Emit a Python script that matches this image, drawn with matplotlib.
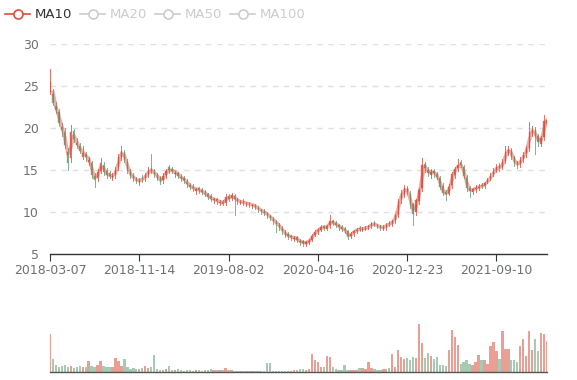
import matplotlib
matplotlib.use("Agg")
import matplotlib.pyplot as plt
from matplotlib.lines import Line2D
from matplotlib.patches import Rectangle
import numpy as np
import pandas as pd

tick_labels = ["2018-03-07", "2018-11-14", "2019-08-02", "2020-04-16", "2020-12-23", "2021-09-10"]
tick_index = [0, 30, 60, 90, 120, 150]
legend_names = ["MA10", "MA20", "MA50", "MA100"]

close = [25.5, 23.0, 22.1, 20.6, 19.8, 18.0, 15.8, 19.5, 18.7, 18.0, 17.3, 17.0,
         16.5, 16.2, 14.4, 13.8, 14.8, 15.8, 14.8, 14.4, 14.3, 14.3, 15.0, 16.6,
         17.3, 16.2, 14.9, 14.3, 14.0, 13.7, 13.8, 13.9, 14.4, 15.0, 14.9, 14.5,
         14.1, 13.6, 14.3, 14.9, 15.0, 14.9, 14.7, 14.3, 14.0, 13.8, 13.3, 13.0,
         12.8, 12.7, 12.6, 12.4, 12.2, 11.8, 11.6, 11.5, 11.3, 11.2, 11.0, 11.8,
         11.6, 12.0, 11.5, 11.3, 11.2, 11.1, 11.0, 10.9, 10.8, 10.6, 10.3, 10.1,
         9.9, 9.6, 9.3, 8.9, 8.6, 8.2, 7.7, 7.3, 7.1, 7.0, 6.9, 6.7,
         6.4, 6.3, 6.4, 6.6, 7.2, 7.6, 7.9, 8.2, 8.1, 8.3, 8.9, 8.7,
         8.5, 8.2, 8.0, 7.8, 7.0, 7.4, 7.7, 7.9, 8.0, 8.0, 8.1, 8.3,
         8.6, 8.5, 8.3, 8.1, 8.2, 8.5, 8.6, 8.9, 9.6, 11.3, 12.3, 12.8,
         12.4, 10.8, 9.8, 11.4, 12.6, 15.6, 15.2, 14.6, 14.8, 14.6, 14.2, 13.0,
         12.3, 12.1, 13.0, 14.5, 15.1, 15.6, 15.6, 14.3, 12.8, 12.5, 12.7, 12.9,
         13.0, 13.1, 13.4, 13.8, 14.3, 14.9, 15.4, 15.2, 16.0, 17.1, 17.5, 16.6,
         15.8, 15.6, 16.2, 16.8, 17.5, 19.5, 19.8, 19.0, 18.3, 18.8, 20.8, 21.0]

open_ = [24.3, 24.0, 22.6, 21.9, 20.1, 19.5, 17.2, 16.4, 19.6, 18.2, 17.8, 16.6,
         16.9, 15.9, 15.8, 14.3, 14.0, 14.9, 15.6, 14.9, 14.6, 14.0, 14.4, 15.3,
         16.5, 17.1, 16.0, 14.8, 14.4, 13.9, 13.5, 14.1, 14.0, 14.5, 15.2, 14.8,
         14.4, 14.0, 13.8, 14.4, 15.3, 15.1, 14.5, 14.6, 14.2, 14.1, 13.6, 13.2,
         13.0, 12.5, 12.8, 12.6, 12.3, 12.1, 11.9, 11.4, 11.5, 11.1, 11.2, 11.1,
         11.9, 11.7, 11.9, 11.5, 11.1, 11.3, 10.9, 11.0, 10.7, 10.8, 10.5, 10.2,
         10.1, 9.8, 9.5, 9.2, 8.8, 8.5, 8.1, 7.6, 7.4, 7.1, 6.8, 7.0,
         6.6, 6.5, 6.2, 6.4, 6.7, 7.3, 7.7, 7.9, 8.3, 8.0, 8.4, 8.9,
         8.7, 8.4, 8.2, 8.0, 7.7, 7.1, 7.5, 7.7, 8.1, 7.9, 8.0, 8.2,
         8.3, 8.7, 8.4, 8.3, 8.0, 8.2, 8.7, 8.6, 9.0, 9.7, 11.5, 12.1,
         12.9, 12.2, 10.9, 10.0, 11.3, 12.8, 15.7, 15.0, 14.4, 14.9, 14.5, 14.1,
         13.1, 12.4, 12.2, 13.2, 14.4, 15.2, 15.9, 15.4, 14.1, 12.9, 12.4, 12.7,
         12.8, 13.2, 13.1, 13.6, 14.0, 14.5, 15.0, 15.6, 15.3, 16.1, 17.0, 17.4,
         16.5, 15.9, 15.7, 16.3, 16.9, 17.6, 19.4, 19.9, 19.1, 18.1, 18.9, 20.5]

high = [27.0, 24.6, 23.1, 22.3, 20.6, 20.0, 17.6, 20.3, 19.9, 18.8, 18.2, 17.8,
        17.2, 16.6, 16.1, 14.7, 15.1, 16.4, 15.9, 15.2, 14.9, 14.6, 15.3, 16.9,
        17.8, 17.4, 16.3, 15.1, 14.6, 14.2, 14.1, 14.4, 14.7, 15.3, 16.9, 15.1,
        14.7, 14.3, 14.6, 15.1, 15.6, 15.4, 14.9, 14.8, 14.5, 14.3, 13.9, 13.5,
        13.3, 12.9, 13.0, 12.8, 12.6, 12.3, 12.1, 11.7, 11.7, 11.4, 11.4, 12.2,
        12.1, 12.3, 12.1, 11.7, 11.4, 11.5, 11.2, 11.2, 11.0, 11.0, 10.7, 10.4,
        10.3, 10.0, 9.7, 9.4, 9.0, 8.7, 8.3, 7.9, 7.6, 7.3, 7.1, 7.2,
        6.8, 6.7, 6.6, 6.8, 7.4, 7.8, 8.1, 8.4, 8.5, 8.5, 9.6, 9.1,
        8.9, 8.6, 8.4, 8.2, 7.9, 7.6, 7.9, 8.1, 8.3, 8.2, 8.3, 8.5,
        8.8, 8.9, 8.6, 8.5, 8.4, 8.7, 8.9, 9.1, 9.8, 11.6, 12.6, 13.2,
        13.1, 12.5, 11.1, 11.6, 12.9, 16.4, 16.0, 15.3, 15.1, 15.1, 14.8, 14.3,
        13.4, 12.6, 13.3, 14.8, 15.4, 16.3, 16.2, 15.6, 14.4, 13.1, 12.9, 13.2,
        13.3, 13.5, 13.6, 14.1, 14.6, 15.2, 15.7, 15.8, 16.3, 17.8, 17.8, 17.6,
        16.7, 16.1, 16.5, 17.1, 17.8, 20.7, 20.2, 20.1, 19.3, 19.1, 21.5, 22.3]

low = [24.0, 22.7, 21.8, 20.2, 19.0, 17.6, 15.0, 15.9, 18.3, 17.6, 17.0, 16.3,
       16.1, 15.6, 14.0, 13.0, 13.7, 14.6, 14.4, 14.1, 14.0, 13.8, 14.1, 15.0,
       16.2, 15.9, 14.6, 14.0, 13.7, 13.4, 13.2, 13.6, 13.7, 14.2, 14.6, 14.2,
       13.8, 13.3, 13.5, 14.1, 14.7, 14.6, 14.2, 14.0, 13.7, 13.5, 13.0, 12.7,
       12.5, 12.2, 12.3, 12.1, 11.9, 11.5, 11.3, 11.1, 11.0, 10.8, 10.8, 10.8,
       11.3, 11.4, 9.6, 11.0, 10.9, 10.8, 10.7, 10.6, 10.5, 10.3, 10.0, 9.8,
       9.6, 9.3, 9.0, 8.6, 7.6, 7.9, 7.4, 7.0, 6.8, 6.7, 6.5, 6.4,
       6.1, 6.0, 5.9, 6.2, 6.5, 7.1, 7.4, 7.7, 7.8, 7.8, 8.1, 8.4,
       8.2, 7.9, 7.7, 7.5, 6.8, 6.9, 7.2, 7.5, 7.7, 7.7, 7.8, 8.0,
       8.1, 8.3, 8.1, 7.9, 7.8, 7.9, 8.3, 8.3, 8.7, 9.4, 11.1, 11.8,
       12.1, 10.5, 8.5, 9.7, 11.0, 12.5, 14.8, 14.3, 14.1, 14.2, 13.9, 12.7,
       12.0, 11.4, 12.0, 12.9, 14.1, 14.9, 15.3, 14.0, 12.5, 11.8, 12.1, 12.4,
       12.6, 12.8, 12.9, 13.4, 13.8, 14.3, 14.8, 14.9, 15.1, 15.8, 16.8, 16.3,
       15.5, 15.2, 15.4, 16.0, 16.6, 17.3, 19.1, 16.9, 17.9, 17.8, 18.6, 20.1]

volume = [38, 13, 7, 5, 6, 7, 5, 6, 4, 5, 6, 5,
          5, 11, 6, 5, 7, 11, 6, 5, 5, 5, 14, 11,
          6, 13, 5, 3, 4, 3, 3, 4, 6, 4, 5, 17,
          3, 2, 2, 3, 6, 2, 2, 3, 2, 1.5, 2, 2,
          1.5, 2, 2, 1.5, 2, 2, 3, 2, 2, 2, 2, 4,
          2, 2, 1.5, 1.5, 1.5, 1.5, 1, 1, 1.5, 1.5, 1, 1,
          1.5, 9, 9, 1.5, 1, 1, 1, 1.5, 1, 1.5, 2, 2,
          3, 3, 2.5, 3, 18, 12, 10, 5, 5, 16, 15, 5,
          3, 2, 2, 7, 2, 2, 2, 2, 4, 4, 3, 10,
          4, 3, 2, 2, 3, 3, 4, 18, 5, 22, 15, 13,
          14, 12, 15, 14, 48, 29, 14, 19, 16, 13, 15, 7,
          7, 6, 22, 42, 35, 27, 8, 10, 12, 8, 7, 10,
          17, 12, 12, 8, 26, 30, 21, 13, 41, 23, 23, 12,
          12, 10, 26, 33, 16, 41, 22, 33, 21, 39, 38, 31]

UP = "#d9503f"
DOWN = "#5f9f74"
MA_COLOR = "#d9503f"

W, H = 577, 380
fig = plt.figure(figsize=(W / 100, H / 100), dpi=100)

def px_rect(x0, y0, x1, y1):
    return [x0 / W, 1 - y1 / H, (x1 - x0) / W, (y1 - y0) / H]

ax = fig.add_axes(px_rect(50, 44, 547, 254))
axv = fig.add_axes(px_rect(50, 312, 547, 372))

n = len(close)
xs = np.arange(n)
o = np.array(open_); c = np.array(close); hi = np.array(high); lo = np.array(low)
up = c >= o
bw = 0.4
for i in range(n):
    col = UP if up[i] else DOWN
    ax.add_line(Line2D([i, i], [lo[i], hi[i]], color=col, lw=0.7, alpha=0.8, zorder=2))
    b0 = min(o[i], c[i]); bh = max(abs(c[i] - o[i]), 0.05)
    ax.add_patch(Rectangle((i - bw / 2, b0), bw, bh, facecolor=col, edgecolor=col,
                           lw=0.3, alpha=0.8, zorder=3))

ma = pd.Series(close).rolling(2).mean()
ax.plot(xs, ma, color=MA_COLOR, lw=2.5, alpha=0.45, zorder=4)

ax.set_xlim(0, n - 1)
ax.set_ylim(5, 30)
ax.set_yticks([5, 10, 15, 20, 25, 30])
ax.set_xticks(tick_index)
ax.set_xticklabels(tick_labels)
for s in ["top", "right", "left"]:
    ax.spines[s].set_visible(False)
ax.spines["bottom"].set_color("#333333")
ax.spines["bottom"].set_linewidth(1)
ax.tick_params(axis="y", length=0, labelsize=9, labelcolor="#6e7079", pad=8)
ax.tick_params(axis="x", length=5, color="#333333", labelsize=9, labelcolor="#6e7079", pad=2)
for v in [10, 15, 20, 25, 30]:
    ax.axhline(v, color="#e0e0e0", lw=1, ls=(0, (4, 4)), zorder=0)

vcols = [UP if u else DOWN for u in up]
axv.bar(xs, volume, width=0.8, color=vcols, alpha=0.55, linewidth=0)
axv.set_xlim(0, n - 1)
axv.set_ylim(0, 60)
axv.set_xticks([]); axv.set_yticks([])
for s in ["top", "right", "left"]:
    axv.spines[s].set_visible(False)
axv.spines["bottom"].set_color("#555555")
axv.spines["bottom"].set_linewidth(1)

# legend
items = [(5, 35), (80, 110), (155, 185), (230, 260)]
ly = 1 - 14 / H
for k, (name, (ix, tx)) in enumerate(zip(legend_names, items)):
    col = MA_COLOR if k == 0 else "#cccccc"
    tcol = "#333333" if k == 0 else "#cccccc"
    fig.add_artist(Line2D([ix / W, (ix + 25) / W], [ly, ly], color=col, lw=1.2))
    fig.add_artist(Line2D([(ix + 12.5) / W], [ly], marker="o", markersize=6.5,
                          markerfacecolor="white", markeredgecolor=col, markeredgewidth=1.2))
    fig.text(tx / W, ly, name, color=tcol, fontsize=9.5, va="center", ha="left")

fig.savefig("out.png", dpi=100)
